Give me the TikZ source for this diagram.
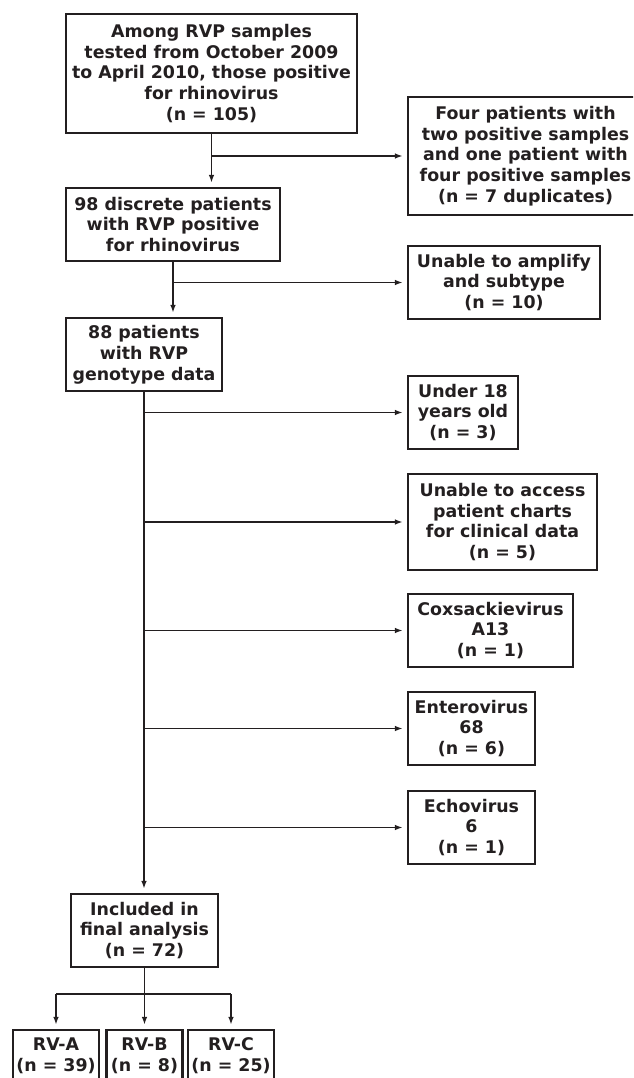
\documentclass[tikz,border=0pt]{standalone}
\usepackage{fontspec}
\setmainfont{DejaVu Sans}
\usetikzlibrary{positioning, arrows.meta}
\definecolor{ink}{HTML}{231F20}
\tikzset{
  box/.style={draw=ink, line width=2.1pt, text=ink, inner sep=0pt, align=center,
    font=\bfseries\fontsize{17.4}{20.8}\selectfont},
  flow/.style={draw=ink, line width=1.7pt, -{Latex[length=8pt,width=5.5pt]}, shorten >=4pt},
  branchline/.style={draw=ink, line width=1.7pt}
}

\begin{document}
\begin{tikzpicture}[x=1pt, y=-1pt]
        \useasboundingbox (0,0) rectangle (633,1078);
        \clip (0,0) rectangle (633,1078);
        % main column
        \node[box, minimum width=291pt, minimum height=119pt] (samples) at (211.5,73.5) {Among RVP samples\\tested from October 2009\\to April 2010, those positive\\for rhinovirus\\(n = 105)};
        \node[box, minimum width=214pt, minimum height=73pt] (discrete) at (173,224.5) {98 discrete patients\\with RVP positive\\for rhinovirus};
        \node[box, minimum width=156pt, minimum height=73pt] (genotype) at (144,354.5) {88 patients\\with RVP\\genotype data};
        \node[box, minimum width=147pt, minimum height=73pt] (final) at (144.5,930.5) {Included in\\final analysis\\(n = 72)};
        \node[box, minimum width=86pt, minimum height=52pt] (rva) at (56,1056) {RV-A\\(n = 39)};
        \node[box, minimum width=76pt, minimum height=52pt] (rvb) at (144.5,1056) {RV-B\\(n = 8)};
        \node[box, minimum width=86pt, minimum height=52pt] (rvc) at (231,1056) {RV-C\\(n = 25)};
        % excluded
        \node[box, minimum width=235pt, minimum height=118pt] (dupl) at (525.5,156) {Four patients with\\two positive samples\\and one patient with\\four positive samples\\(n = 7 duplicates)};
        \node[box, minimum width=192pt, minimum height=73pt] (amplify) at (504,282.5) {Unable to amplify\\and subtype\\(n = 10)};
        \node[box, minimum width=110pt, minimum height=73pt] (under) at (463,412.5) {Under 18\\years old\\(n = 3)};
        \node[box, minimum width=189pt, minimum height=96pt] (charts) at (502.5,522) {Unable to access\\patient charts\\for clinical data\\(n = 5)};
        \node[box, minimum width=165pt, minimum height=73pt] (coxsackie) at (490.5,630.5) {Coxsackievirus\\A13\\(n = 1)};
        \node[box, minimum width=127pt, minimum height=73pt] (entero) at (471.5,728.5) {Enterovirus\\68\\(n = 6)};
        \node[box, minimum width=127pt, minimum height=73pt] (echo) at (471.5,827.5) {Echovirus\\6\\(n = 1)};
        % connectors
        \draw[flow] (samples.south) -- (samples.south |- discrete.north);
        \draw[flow] (samples.south |- dupl.west) -- (dupl.west);
        \draw[flow] (discrete.south) -- (discrete.south |- genotype.north);
        \draw[flow] (discrete.south |- amplify.west) -- (amplify.west);
        \draw[flow] (genotype.south) -- (genotype.south |- final.north);
        \draw[flow] (genotype.south |- under.west) -- (under.west);
        \draw[flow] (genotype.south |- charts.west) -- (charts.west);
        \draw[flow] (genotype.south |- coxsackie.west) -- (coxsackie.west);
        \draw[flow] (genotype.south |- entero.west) -- (entero.west);
        \draw[flow] (genotype.south |- echo.west) -- (echo.west);
        \coordinate (split) at (144.5,994);
        \draw[flow] (final.south) -- (rvb.north);
        \draw[branchline] (split -| rva.north) -- (split -| rvc.north);
        \draw[flow] (split -| rva.north) -- (rva.north);
        \draw[flow] (split -| rvc.north) -- (rvc.north);
        \end{tikzpicture}
\end{document}
